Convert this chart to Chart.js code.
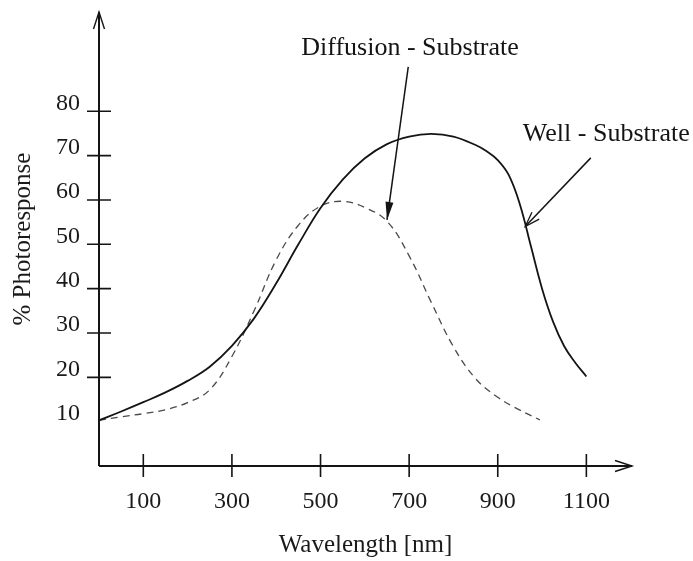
<!DOCTYPE html>
<html>
<head>
<meta charset="utf-8">
<script src="https://cdn.jsdelivr.net/npm/chart.js@4.4.1/dist/chart.umd.min.js"></script>
<style>
  html, body { margin: 0; padding: 0; background: #fff; }
  #wrap { position: relative; width: 693px; height: 561px; }
</style>
</head>
<body>
<div id="wrap"><canvas id="chart"></canvas></div>
<script>
// values (wavelength in nm, response in %)
const wellWavelength = [0, 50, 100, 150, 200, 250, 300, 350, 400, 450, 500, 550, 600, 650, 700, 750, 800, 850, 875, 900, 925, 950, 975, 1000, 1025, 1050, 1075, 1100];
const wellResponse = [10.3, 12.3, 14.4, 16.6, 19.2, 22.4, 27.1, 33.3, 41.2, 50.0, 58.2, 64.6, 69.4, 72.6, 74.3, 74.9, 74.3, 72.4, 71.0, 69.0, 65.6, 59.0, 49.5, 40.0, 32.5, 27.0, 23.3, 20.2];
const diffWavelength = [0, 50, 100, 150, 200, 250, 300, 350, 400, 450, 500, 550, 600, 650, 700, 750, 800, 850, 900, 950, 995];
const diffResponse = [10.3, 11.1, 11.8, 12.7, 14.3, 17.2, 24.7, 35.0, 46.5, 54.3, 58.6, 59.7, 58.3, 55.2, 47.4, 36.9, 26.9, 19.7, 15.5, 12.6, 10.4];

const xTickLabels = [100, 300, 500, 700, 900, 1100];
const yTickLabels = [10, 20, 30, 40, 50, 60, 70, 80];
const yTickMarks = [20, 30, 40, 50, 60, 70, 80];

const serif = "'Liberation Serif', 'Times New Roman', serif";
const ink = '#141414';

const toPoints = (xs, ys) => xs.map((x, i) => ({ x: x, y: ys[i] }));

// callouts, placed in data units
const callouts = [
  { text: 'Diffusion - Substrate', at: [702, 94.3], from: [698, 90], to: [650, 55.5], filled: true },
  { text: 'Well - Substrate', at: [1145, 74.8], from: [1110, 69.5], to: [962, 54], filled: false }
];

function arrowHead(ctx, x1, y1, x2, y2, len, half, filled) {
  const ang = Math.atan2(y2 - y1, x2 - x1);
  const bx = x2 - len * Math.cos(ang), by = y2 - len * Math.sin(ang);
  const px = -Math.sin(ang) * half, py = Math.cos(ang) * half;
  ctx.beginPath();
  ctx.moveTo(bx + px, by + py);
  ctx.lineTo(x2, y2);
  ctx.lineTo(bx - px, by - py);
  if (filled) {
    ctx.closePath();
    ctx.fill();
  } else {
    ctx.stroke();
  }
}

const drawing = {
  id: 'drawing',
  afterDatasetsDraw(chart) {
    const { ctx, chartArea: a, scales: { x, y } } = chart;
    const x0 = x.getPixelForValue(0);
    const y0 = y.getPixelForValue(0);
    ctx.save();
    ctx.strokeStyle = ink;
    ctx.fillStyle = ink;
    ctx.lineCap = 'butt';

    // axes with open arrowheads
    ctx.lineWidth = 2;
    ctx.beginPath();
    ctx.moveTo(x0, y0); ctx.lineTo(a.right, y0);
    ctx.moveTo(x0, y0); ctx.lineTo(x0, a.top);
    ctx.stroke();
    ctx.lineWidth = 1.4;
    arrowHead(ctx, x0, y0, x0, a.top, 17, 5.5, false);
    arrowHead(ctx, x0, y0, a.right, y0, 17, 5.5, false);

    // tick marks crossing the axes
    ctx.lineWidth = 1.6;
    ctx.beginPath();
    xTickLabels.forEach(v => {
      const px = x.getPixelForValue(v);
      ctx.moveTo(px, y0 - 12); ctx.lineTo(px, y0 + 11);
    });
    yTickMarks.forEach(v => {
      const py = y.getPixelForValue(v);
      ctx.moveTo(x0 - 12, py); ctx.lineTo(x0 + 12, py);
    });
    ctx.stroke();

    // callouts
    ctx.font = '26px ' + serif;
    ctx.textAlign = 'center';
    ctx.textBaseline = 'middle';
    callouts.forEach(c => {
      ctx.fillText(c.text, x.getPixelForValue(c.at[0]), y.getPixelForValue(c.at[1]));
      const x1 = x.getPixelForValue(c.from[0]), y1 = y.getPixelForValue(c.from[1]);
      const x2 = x.getPixelForValue(c.to[0]), y2 = y.getPixelForValue(c.to[1]);
      ctx.lineWidth = 1.5;
      ctx.beginPath();
      ctx.moveTo(x1, y1); ctx.lineTo(x2, y2);
      ctx.stroke();
      ctx.lineWidth = 1.3;
      arrowHead(ctx, x1, y1, x2, y2, c.filled ? 18 : 15, c.filled ? 4 : 5, c.filled);
    });
    ctx.restore();
  }
};

new Chart(document.getElementById('chart'), {
  type: 'line',
  data: {
    datasets: [
      {
        label: 'Well - Substrate',
        data: toPoints(wellWavelength, wellResponse),
        borderColor: ink,
        borderWidth: 1.8,
        pointRadius: 0,
        tension: 0.4,
        fill: false,
        clip: false
      },
      {
        label: 'Diffusion - Substrate',
        data: toPoints(diffWavelength, diffResponse),
        borderColor: '#4a4a4a',
        borderWidth: 1.3,
        borderDash: [7, 5],
        pointRadius: 0,
        tension: 0.4,
        fill: false,
        clip: false
      }
    ]
  },
  options: {
    responsive: true,
    maintainAspectRatio: false,
    animation: false,
    layout: { padding: { left: 0, right: 61, top: 12, bottom: 0 } },
    plugins: {
      legend: { display: false },
      tooltip: { enabled: false }
    },
    scales: {
      x: {
        type: 'linear',
        min: 0,
        max: 1203,
        grid: { display: false, drawTicks: false },
        border: { display: false },
        afterBuildTicks: s => { s.ticks = xTickLabels.map(v => ({ value: v })); },
        afterFit: s => { s.height = 95; s.paddingLeft = 0; s.paddingRight = 0; },
        ticks: {
          color: '#1a1a1a',
          font: { family: serif, size: 24 },
          padding: 21,
          maxRotation: 0,
          autoSkip: false,
          callback: v => String(v)
        },
        title: {
          display: true,
          text: 'Wavelength [nm]',
          color: '#1a1a1a',
          font: { family: serif, size: 25 },
          padding: { top: 0, bottom: 1 }
        }
      },
      y: {
        type: 'linear',
        min: 0,
        max: 102.4,
        grid: { display: false, drawTicks: false },
        border: { display: false },
        afterBuildTicks: s => { s.ticks = yTickLabels.map(v => ({ value: v })); },
        afterFit: s => { s.width = 99; s.paddingTop = 0; s.paddingBottom = 0; },
        ticks: {
          color: '#1a1a1a',
          font: { family: serif, size: 24 },
          padding: 19,
          labelOffset: -8,
          autoSkip: false,
          callback: v => String(v)
        },
        title: {
          display: true,
          text: '% Photoresponse',
          color: '#1a1a1a',
          font: { family: serif, size: 25 },
          padding: { top: 8, bottom: 0 }
        }
      }
    }
  },
  plugins: [drawing]
});
</script>
</body>
</html>
